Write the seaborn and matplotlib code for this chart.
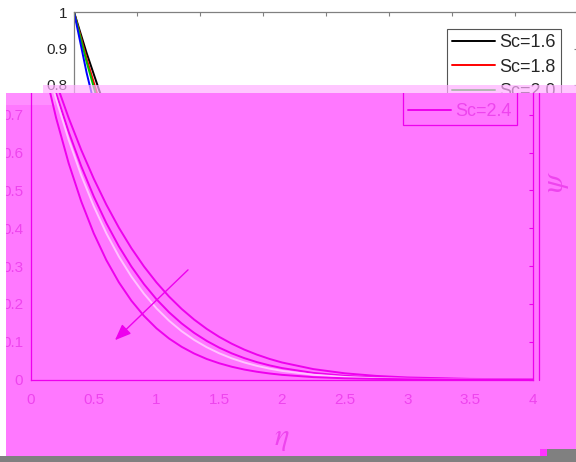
import numpy as np
import pandas as pd
import matplotlib
matplotlib.use("Agg")
import matplotlib.pyplot as plt
import seaborn as sns
from matplotlib.patches import Rectangle
from matplotlib.lines import Line2D
from matplotlib.transforms import Bbox, TransformedBbox

# similarity variable and concentration profiles psi(eta) for each Schmidt number
eta = [0.0, 0.1, 0.2, 0.3, 0.4, 0.5, 0.6, 0.7, 0.8, 0.9, 1.0,
       1.1, 1.2, 1.3, 1.4, 1.5, 1.6, 1.7, 1.8, 1.9, 2.0,
       2.25, 2.5, 2.75, 3.0, 3.5, 4.0]
psi_sc16 = [1.0, 0.8879, 0.7854, 0.6920, 0.6075, 0.5313, 0.4628, 0.4017, 0.3473, 0.2991, 0.2567,
            0.2194, 0.1868, 0.1585, 0.1339, 0.1127, 0.0946, 0.0790, 0.0658, 0.0545, 0.0450,
            0.0275, 0.0164, 0.0095, 0.0054, 0.0016, 0.0004]
psi_sc18 = [1.0, 0.8720, 0.7573, 0.6551, 0.5644, 0.4843, 0.4140, 0.3524, 0.2988, 0.2523, 0.2122,
            0.1778, 0.1484, 0.1233, 0.1021, 0.0842, 0.0691, 0.0565, 0.0460, 0.0374, 0.0302,
            0.0174, 0.0098, 0.0054, 0.0029, 0.0008, 0.0002]
psi_sc20 = [1.0, 0.8631, 0.7417, 0.6345, 0.5405, 0.4584, 0.3870, 0.3254, 0.2723, 0.2269, 0.1882,
            0.1555, 0.1278, 0.1047, 0.0854, 0.0693, 0.0559, 0.0450, 0.0361, 0.0288, 0.0228,
            0.0126, 0.0067, 0.0035, 0.0018, 0.0004, 0.0001]
psi_sc24 = [1.0, 0.8336, 0.6921, 0.5723, 0.4714, 0.3867, 0.3160, 0.2572, 0.2084, 0.1683, 0.1353,
            0.1084, 0.0865, 0.0687, 0.0543, 0.0429, 0.0337, 0.0263, 0.0205, 0.0159, 0.0123,
            0.0063, 0.0032, 0.0016, 0.0008, 0.0002, 0.0000]
sc_labels = ["Sc=1.6", "Sc=1.8", "Sc=2.0", "Sc=2.4"]

x_ticks = [0, 0.5, 1, 1.5, 2, 2.5, 3, 3.5, 4]
x_ticklabels = ["0", "0.5", "1", "1.5", "2", "2.5", "3", "3.5", "4"]
y_ticks = [0, 0.1, 0.2, 0.3, 0.4, 0.5, 0.6, 0.7, 0.8, 0.9, 1.0]
y_ticklabels = ["0", "0.1", "0.2", "0.3", "0.4", "0.5", "0.6", "0.7", "0.8", "0.9", "1"]

df = pd.DataFrame({
    "eta": np.tile(eta, 4),
    "psi": np.concatenate([psi_sc16, psi_sc18, psi_sc20, psi_sc24]),
    "Sc": np.repeat(sc_labels, len(eta)),
})

sns.set_style("white")
plt.rcParams["font.family"] = ["Liberation Sans", "DejaVu Sans"]
plt.rcParams["mathtext.fontset"] = "stix"

W, H = 576, 462
fig = plt.figure(figsize=(W / 100, H / 100), dpi=100)
fig.patch.set_facecolor("white")


def px_rect(left, top, right, bottom):
    return [left / W, 1 - bottom / H, (right - left) / W, (bottom - top) / H]


def fig_rect(left, top, right, bottom, color, z, alpha=1.0):
    r = Rectangle((left / W, 1 - bottom / H), (right - left) / W, (bottom - top) / H,
                  transform=fig.transFigure, facecolor=color, edgecolor="none",
                  alpha=alpha, zorder=z)
    fig.add_artist(r)
    return r


def draw_panel(ax, line_colors, axis_color, label_color, arrow_color, xpad, ypad):
    sns.lineplot(data=df, x="eta", y="psi", hue="Sc", hue_order=sc_labels,
                 palette=line_colors, linewidth=1.4, legend=False, ax=ax)
    ax.set_xlim(0, 4)
    ax.set_ylim(0, 1)
    ax.set_xticks(x_ticks)
    ax.set_xticklabels(x_ticklabels)
    ax.set_yticks(y_ticks)
    ax.set_yticklabels(y_ticklabels)
    ax.set_xlabel("")
    ax.set_ylabel("")
    ax.tick_params(direction="in", top=True, right=True, length=3, width=0.8,
                   colors=axis_color, labelcolor=label_color, labelsize=11)
    ax.tick_params(axis="x", pad=xpad)
    ax.tick_params(axis="y", pad=ypad)
    for sp in ax.spines.values():
        sp.set_visible(True)
        sp.set_color(axis_color)
        sp.set_linewidth(0.9)
    ax.annotate("", xy=(0.669, 0.104), xytext=(1.251, 0.290),
                arrowprops=dict(arrowstyle="-|>,head_length=0.7,head_width=0.28",
                                color=arrow_color, lw=1.0, mutation_scale=14,
                                shrinkA=0, shrinkB=0))


LEGEND_KW = dict(loc="upper right", borderaxespad=0, fontsize=13,
                 handlelength=2.4, handletextpad=0.2, labelspacing=0.4,
                 borderpad=0.3, frameon=True, fancybox=False, framealpha=1)

# regular panel
axA = fig.add_axes(px_rect(74, 12, 578, 377))
axA.set_zorder(0)
axA.set_facecolor("white")
draw_panel(axA, ["#000000", "#FF0000", "#00C000", "#0000FF"],
           "#808080", "#262626", "#000000", xpad=9.5, ypad=5)
legA = axA.legend(axA.get_lines()[:4], sc_labels, bbox_to_anchor=(0.966, 0.9535),
                  **LEGEND_KW)
legA.get_frame().set_facecolor("white")
legA.get_frame().set_edgecolor("#555555")
legA.get_frame().set_linewidth(0.8)

# magenta band
MAG_BG = "#FF78FF"
MAG_LINE = "#EE00EE"
MAG_TEXT = "#EE44EE"
MAG_PALE = "#FFC4FF"
fig_rect(6, 93, 576, 456, MAG_BG, 1)
fig_rect(6, 93, 55, 105, "#FF8EFF", 1.5)

axB = fig.add_axes(px_rect(31, 1.5, 533, 379.5))
axB.set_zorder(2)
axB.patch.set_visible(False)
draw_panel(axB, [MAG_LINE, MAG_LINE, MAG_PALE, MAG_LINE],
           MAG_LINE, MAG_TEXT, MAG_LINE, xpad=9.5, ypad=5.5)
legB = axB.legend(axB.get_lines()[:4], sc_labels, bbox_to_anchor=(0.968, 0.938),
                  labelcolor=MAG_TEXT, **LEGEND_KW)
legB.get_frame().set_facecolor("none")
legB.get_frame().set_edgecolor(MAG_LINE)
legB.get_frame().set_linewidth(0.9)

fig.canvas.draw()
band = TransformedBbox(Bbox.from_extents(6 / W, 1 - 456 / H, 1.0, 1 - 93 / H), fig.transFigure)
for art in axB.findobj():
    if art is axB:
        continue
    art.set_clip_on(True)
    art.set_clip_box(band)

fig.add_artist(Line2D([538.5 / W, 538.5 / W], [1 - 93 / H, 1 - 380 / H],
                      transform=fig.transFigure, color=MAG_LINE, lw=0.9, zorder=2.5))
fig.text(282 / W, 1 - 438 / H, r"$\eta$", color=MAG_TEXT, fontsize=22,
         ha="center", va="center", zorder=2.5)
fig.text(556 / W, 1 - 182 / H, r"$\psi$", color=MAG_TEXT, fontsize=22,
         rotation=90, ha="center", va="center", zorder=2.5)

# transition strip and bottom bar
fig_rect(43, 85, 576, 93, "#FFB0FF", 3, alpha=0.7)
fig_rect(0, 456, 576, 462, "#808080", 4)
fig_rect(547, 449, 576, 456, "#808080", 4)
fig_rect(540, 449, 547, 456, "#FF33FF", 4)

fig.savefig("out.png", dpi=100)
